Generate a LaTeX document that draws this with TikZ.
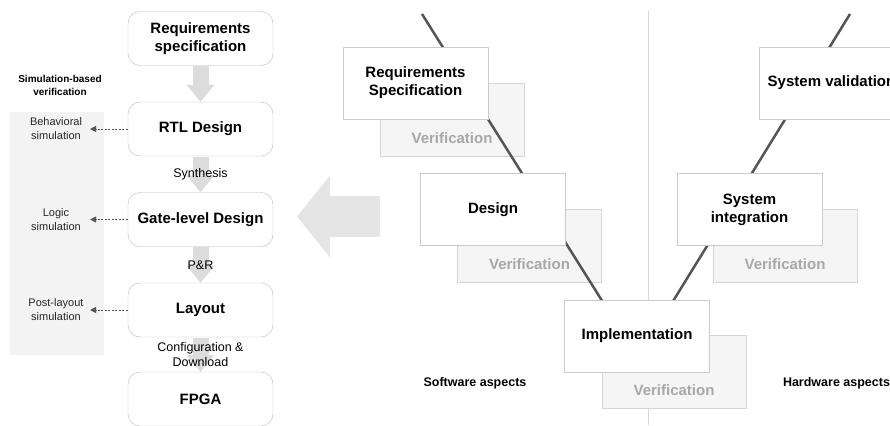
\documentclass[tikz,border=0pt]{standalone}
\usepackage{fontspec}
\setmainfont{Liberation Sans}
\usetikzlibrary{arrows.meta}
\definecolor{boxgray}{HTML}{B9B9B9}
\definecolor{vgray}{HTML}{CBCBCB}
\definecolor{verfill}{HTML}{F5F5F5}
\definecolor{verline}{HTML}{D6D6D6}
\definecolor{vertxt}{HTML}{A8A8A8}
\definecolor{flowfill}{HTML}{DCDCDC}
\definecolor{bigfill}{HTML}{E5E5E5}
\definecolor{sidefill}{HTML}{F3F3F3}
\definecolor{vdark}{HTML}{555555}
\definecolor{simtxt}{HTML}{262626}
\begin{document}
\begin{tikzpicture}[x=1pt,y=-1pt]
\tikzstyle{flowbox}=[draw=boxgray, fill=white, rounded corners=12pt, minimum width=145pt, minimum height=54pt, align=center, font=\fontsize{15}{17.5}\selectfont\bfseries]
\tikzstyle{vbox}=[draw=vgray, fill=white, minimum width=145pt, minimum height=72pt, align=center, font=\fontsize{15}{18}\selectfont\bfseries]
\tikzstyle{verbox}=[draw=verline, fill=verfill, minimum width=144pt, minimum height=73pt]
\tikzstyle{vertext}=[text=vertxt, font=\fontsize{15}{18}\selectfont\bfseries]
\tikzstyle{vstroke}=[draw=vdark, line width=2.5pt]
\tikzstyle{flowarrow}=[draw=flowfill, line width=16pt, -{Triangle[length=17pt,width=28pt,line width=0pt]}, shorten <=0.5pt]
\tikzstyle{bigarrow}=[draw=bigfill, line width=41pt, -{Triangle[length=33pt,width=82pt,line width=0pt]}]
\tikzstyle{steptext}=[align=center, font=\fontsize{12.5}{15}\selectfont]
\tikzstyle{simtext}=[align=center, text width=61pt, text=simtxt, font=\fontsize{11}{14}\selectfont]
\tikzstyle{simarrow}=[draw=vdark, line width=0.9pt, dash pattern=on 2pt off 1.5pt, -{Triangle[length=6pt,width=6pt]}]
\tikzstyle{aspect}=[font=\fontsize{12.5}{15}\selectfont\bfseries]
\useasboundingbox (0,0) rectangle (890,425);

% background
\fill[sidefill] (10,112) rectangle (104,355);
\draw[verline, line width=1pt] (648,11) -- (648,425);
\coordinate (bigtail) at (380,216.5);
\coordinate (bighead) at (297,216.5);
\draw[bigarrow] (bigtail) -- (bighead);

% V model
\node [verbox] (rsv) at (452,119.5) {};
\node [verbox] (desv) at (529.5,246) {};
\node [verbox] (impv) at (674,372) {};
\node [verbox] (sintv) at (785,246) {};
\node [vertext] (rsvt) at (452,138) {Verification};
\node [vertext] (desvt) at (529.5,264.5) {Verification};
\node [vertext] (impvt) at (674,390.5) {Verification};
\node [vertext] (sintvt) at (785,264.5) {Verification};

\coordinate (ltop) at (422,14);
\coordinate (vbot) at (638,358);
\coordinate (rtop) at (850,14);
\draw[vstroke] (ltop) -- (vbot) -- (rtop);

\node [vbox] (rs) at (415.5,83) {Requirements\\Specification};
\node [vbox] (des) at (493,209.5) {Design};
\node [vbox] (imp) at (637,336) {Implementation};
\node [vbox] (sint) at (749.5,209.5) {System\\integration};
\node [vbox] (sval) at (831.5,83) {System validation};

\node [aspect] (sw) at (475,383) {Software aspects};
\node [aspect] (hw) at (836.5,383) {Hardware aspects};

% design flow
\node [flowbox] (req) at (200.5,38.5) {Requirements\\specification};
\node [flowbox] (rtl) at (200.5,129) {RTL Design};
\node [flowbox] (gate) at (200.5,219.5) {Gate-level Design};
\node [flowbox] (lay) at (200.5,310) {Layout};
\node [flowbox] (fpga) at (200.5,399) {FPGA};

\draw[flowarrow] (req) -- (rtl);
\draw[flowarrow] (rtl) -- node [steptext] (syn) {Synthesis} (gate);
\draw[flowarrow] (gate) -- node [steptext] (pr) {P\&R} (lay);
\draw[flowarrow] (lay) -- node [steptext] (conf) {Configuration \&\\Download} (fpga);

% simulation
\node [font=\fontsize{10}{13}\selectfont\bfseries, align=center] (simhead) at (60,85.5) {Simulation-based\\verification};
\node [simtext] (beh) at (56,129) {Behavioral\\simulation};
\node [simtext] (logic) at (56,219.5) {Logic\\simulation};
\node [simtext] (post) at (56,310) {Post-layout\\simulation};

\draw[simarrow] (rtl) -- (beh);
\draw[simarrow] (gate) -- (logic);
\draw[simarrow] (lay) -- (post);
\end{tikzpicture}
\end{document}
